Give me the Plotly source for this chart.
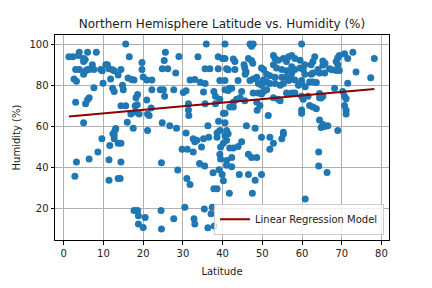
import plotly.graph_objects as go

lat = [15.6,16.5,1.3,2.3,3.9,3.7,5.0,6.0,5.0,5.4,8.2,7.2,10.6,11.0,3.0,3.9,5.5,6.0,6.4,7.6,5.0,9.3,9.7,11.4,12.3,12.7,14.4,13.7,11.8,16.2,17.1,17.7,2.6,3.2,9.9,7.6,12.3,12.7,14.8,15.0,18.2,18.6,6.4,6.0,3.0,5.5,14.4,15.6,18.0,18.5,16.9,18.0,5.0,16.0,17.5,13.1,12.9,12.4,
       9.6,12.7,12.7,11.6,13.7,14.4,8.6,6.4,3.2,11.4,14.4,2.8,11.4,13.7,14.2,17.7,18.6,18.8,18.8,
       35.9,25.6,25.3,29.0,33.8,38.9,19.7,19.7,24.8,26.2,28.2,35.6,36.8,38.9,20.0,20.9,22.2,31.8,33.0,34.4,35.6,22.2,24.3,25.1,27.7,30.1,30.8,25.4,35.2,37.8,38.2,39.3,20.9,38.2,22.0,31.4,35.6,31.4,31.5,21.1,21.5,19.0,24.8,39.0,26.7,28.4,36.3,38.6,39.3,21.1,30.8,
       32.6,33.5,35.2,36.5,33.0,29.8,31.1,32.6,34.7,38.6,39.5,39.3,39.5,24.6,28.7,34.2,35.5,37.6,39.1,39.9,31.0,31.8,37.8,38.6,20.5,20.0,24.6,24.5,27.7,30.5,32.8,33.0,35.4,37.4,37.1,36.3,37.9,
       40.6,46.9,47.7,47.3,59.9,40.0,40.6,42.7,43.1,46.5,47.3,45.4,45.6,41.0,41.4,43.1,45.9,45.7,49.8,50.3,47.6,52.8,53.2,54.0,55.3,56.1,56.6,57.4,58.2,59.5,52.8,53.6,54.9,56.1,57.4,58.2,59.5,60.3,57.4,51.1,51.9,53.2,54.9,56.1,57.4,58.2,39.3,40.6,43.9,46.9,47.7,48.6,50.3,51.1,59.9,49.0,49.8,51.9,53.2,54.5,55.3,56.6,59.1,59.9,60.8,41.8,42.3,41.4,40.6,44.8,47.7,49.0,50.3,51.1,56.1,57.4,58.2,59.9,60.3,52.8,54.0,54.5,44.4,43.5,42.7,45.6,49.8,48.6,49.4,48.7,41.8,42.7,40.2,40.6,40.6,41.0,41.4,46.0,48.2,51.5,55.3,59.9,59.9,
       40.6,41.0,40.2,41.8,42.7,43.9,44.8,42.3,41.0,41.0,42.3,40.2,46.5,47.3,48.6,49.8,51.9,52.8,51.9,54.9,55.3,44.2,46.5,48.2,49.8,41.7,47.5,60.8,
       72.8,70.7,69.4,69.0,71.5,78.2,63.2,62.75,62.3,65.25,65.8,65.25,68.6,69.0,60.7,64.0,64.4,66.9,67.5,68.6,69.4,65.7,62.3,62.75,60.7,73.6,77.3,61.9,62.75,63.6,71.5,68.2,64.4,65.25,64.4,64.8,70.25,70.7,71.1,61.5,61.9,62.75,63.6,70.7,71.1,71.1,64.4,65.25,64.8,66.5,65.7,69.0,
       64.2,64.2,66.3]

humidity = [100,93.8,93.8,93.8,96,94.5,93,96,91.5,92.5,96,90,90,90,87.7,87.7,87,87.7,87.7,87.7,85.4,87.7,87,88,87.5,87,87.7,85,83,83.5,82.8,82.5,83,82,81,78.8,78.5,77,80,77.8,74,75.5,74,73,71.7,71,70,70,70,70.5,66,67,61.8,62,59.2,59,58,56.5,
            54.1,54,55.6,50.8,51.8,51.8,47.6,44.2,42.7,43.9,42.7,35.9,33.9,34.8,34.8,19.2,19.2,16.7,12.7,
            100,96,92,94,93.8,93.8,91,87.7,88,88,86,88,88,88,84,82.6,82.6,82.5,82.8,81.5,80.8,77.8,77.8,77.8,77.8,76.5,77.3,74.7,76.7,77,74.7,73.2,72.9,71,69,71,71,68,65.3,66,65.3,66,61.8,62.5,60.3,59.2,60.3,56.8,58,58,56.8,
            54,53.3,54,54.8,52.6,49,49,47.6,50,54.8,50,46.5,44.2,42.4,38.9,42,40.8,37.6,39,36.7,34.8,31.8,29.8,29.8,15.8,11,10.2,19.2,15.2,20.8,15.2,12.7,20,20.8,17.7,10.9,11.7,
            100,100,100,99,100,93,93,92.7,91.5,93,92,90,88.4,88,87.5,87.7,86.6,85.4,88.4,87.7,90.7,94.5,93,92.2,93,91.5,93.8,94.5,93,92.2,90,88.4,87.7,87,89,87.7,88.4,87.7,86,85.4,84.6,83.9,83.9,83.9,83.1,82.6,82.3,82.3,82.3,82.3,83.1,83.9,82.6,81.6,82.3,80.8,80,80.8,80.8,80,80.8,82.3,80,80.8,79.3,78.5,78.5,77.5,77.8,77,76.3,76.3,77,77.8,76.3,76.3,76.3,74.7,73.2,74,73.2,72.5,74,73.2,71.7,72.5,75.8,71.7,70.2,67.9,69.4,69.4,66.4,66.4,61.8,58,56.5,60.3,59.2,65.3,57.2,68,66.4,
            55.6,53.3,51.8,49.5,49.5,50.3,52.6,45,43.5,41.2,40.5,33.6,46.5,45,45,54.8,54.8,51.8,49,54,56.4,36.7,36.7,33.9,36.7,27.6,27.6,24.8,
            96,95.3,94.5,93.3,93,93,93.8,91.5,90,91.8,90.7,89.7,91.5,90,90,87.7,86,88,87.5,87.2,87.2,86,85.4,86,85.4,86.5,83.6,81.6,81.6,81.3,81,78.5,76,74.7,74,73.8,77,74.7,73.5,74.7,70.2,69.4,68.6,70.2,67.9,66,63.2,61,59.5,60.3,60,58,
            47.6,40.8,37.7]

reg_slope = 0.174
reg_intercept = 64.6
reg_label = "Linear Regression Model"

x_ticks = [0, 10, 20, 30, 40, 50, 60, 70, 80]
y_ticks = [20, 40, 60, 80, 100]

reg_x = [min(lat), max(lat)]
reg_y = [reg_intercept + reg_slope * v for v in reg_x]

font = "DejaVu Sans, Liberation Sans, sans-serif"

fig = go.Figure()
fig.add_trace(go.Scatter(x=lat, y=humidity, mode="markers",
                         marker=dict(color="#1f77b4", size=7, line=dict(width=0)),
                         showlegend=False, hoverinfo="skip"))
fig.add_trace(go.Scatter(x=reg_x, y=reg_y, mode="lines",
                         line=dict(color="#8b0000", width=2),
                         name=reg_label))

axis_common = dict(showgrid=True, gridcolor="#b0b0b0", gridwidth=0.8,
                   showline=True, linecolor="black", linewidth=1, mirror=True,
                   ticks="outside", ticklen=3.5, tickcolor="black", tickwidth=0.8,
                   zeroline=False, tickfont=dict(size=10, color="#222", family=font))

fig.update_layout(
    width=432, height=288,
    margin=dict(l=54.5, r=43, t=35, b=35),
    paper_bgcolor="white", plot_bgcolor="white",
    font=dict(family=font, size=10, color="#222"),
    title=dict(text="Northern Hemisphere Latitude vs. Humidity (%)",
               x=0.5, xref="paper", xanchor="center",
               y=1 - 24/288, yref="container", yanchor="middle",
               font=dict(size=12, color="#222", family=font)),
    xaxis=dict(range=[-2.2, 81.9], tickvals=x_ticks,
               title=dict(text="Latitude", font=dict(size=10), standoff=10), **axis_common),
    yaxis=dict(range=[4.9, 104.4], tickvals=y_ticks,
               title=dict(text="Humidity (%)", font=dict(size=10), standoff=6), **axis_common),
    legend=dict(x=0.985, y=0.026, xanchor="right", yanchor="bottom",
                itemwidth=30,
                bgcolor="rgba(255,255,255,0.8)", bordercolor="#cccccc", borderwidth=1,
                font=dict(size=10, color="#222", family=font)),
)

fig.write_html("out.html")
